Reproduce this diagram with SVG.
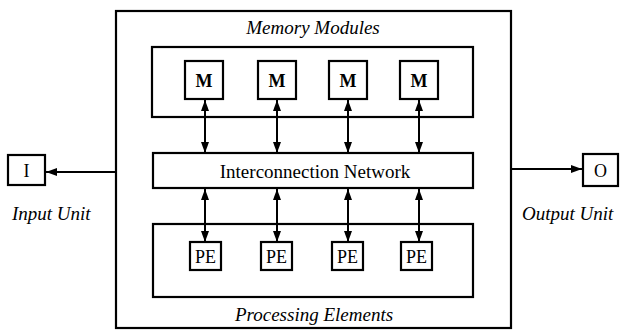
<svg xmlns="http://www.w3.org/2000/svg" width="620" height="331" viewBox="0 0 620 331">
  <defs>
    <marker id="head" viewBox="0 0 11 8" refX="11" refY="4" markerWidth="11" markerHeight="8" markerUnits="userSpaceOnUse" orient="auto-start-reverse">
      <path d="M0,0 L11,4 L0,8 Z" fill="#000"/>
    </marker>
  </defs>
  <style>
    .box { fill: #fff; stroke: #000; stroke-width: 2.2; }
    .frame { fill: none; stroke: #000; stroke-width: 2.2; }
    .lbl { font-family: "Liberation Serif", "Times New Roman", serif; fill: #000; }
    .it { font-style: italic; font-size: 19px; }
    .cell { font-size: 18px; text-anchor: middle; }
    .link { stroke: #000; stroke-width: 2; fill: none; }
  </style>
  <rect width="620" height="331" fill="#fff"/>

  <!-- enclosing system boundary -->
  <g id="system">
    <rect class="frame" x="116" y="11" width="395" height="317"/>
  </g>

  <!-- memory modules -->
  <g id="memory">
    <rect class="frame" x="152" y="47" width="321" height="70"/>
    <text class="lbl it" x="313" y="34" text-anchor="middle">Memory Modules</text>
  </g>
  <g id="m1"><rect class="box" x="185" y="61" width="38" height="38"/><text class="lbl cell" x="204" y="87" font-weight="bold">M</text></g>
  <g id="m2"><rect class="box" x="258" y="61" width="38" height="38"/><text class="lbl cell" x="277" y="87" font-weight="bold">M</text></g>
  <g id="m3"><rect class="box" x="329" y="61" width="38" height="38"/><text class="lbl cell" x="348" y="87" font-weight="bold">M</text></g>
  <g id="m4"><rect class="box" x="400" y="61" width="38" height="38"/><text class="lbl cell" x="419" y="87" font-weight="bold">M</text></g>

  <!-- interconnection network -->
  <g id="network">
    <rect class="frame" x="153" y="153" width="320" height="35"/>
    <text class="lbl" x="315" y="178" font-size="19" text-anchor="middle">Interconnection Network</text>
  </g>

  <!-- processing elements -->
  <g id="processing">
    <rect class="frame" x="153" y="224" width="320" height="73"/>
    <text class="lbl it" x="314" y="321" text-anchor="middle">Processing Elements</text>
  </g>
  <g id="pe1"><rect class="box" x="190" y="242" width="31" height="28"/><text class="lbl cell" x="205.5" y="262.5">PE</text></g>
  <g id="pe2"><rect class="box" x="261" y="242" width="31" height="28"/><text class="lbl cell" x="276.5" y="262.5">PE</text></g>
  <g id="pe3"><rect class="box" x="332" y="242" width="31" height="28"/><text class="lbl cell" x="347.5" y="262.5">PE</text></g>
  <g id="pe4"><rect class="box" x="401" y="242" width="31" height="28"/><text class="lbl cell" x="416.5" y="262.5">PE</text></g>

  <!-- input and output units -->
  <g id="input">
    <rect class="box" x="8" y="155" width="37" height="30"/>
    <text class="lbl cell" x="26.5" y="176.5">I</text>
    <text class="lbl it" x="12" y="220">Input Unit</text>
  </g>
  <g id="output">
    <rect class="box" x="583" y="154" width="35" height="32"/>
    <text class="lbl cell" x="600.5" y="176.5">O</text>
    <text class="lbl it" x="522" y="220">Output Unit</text>
  </g>

  <!-- connectors -->
  <g id="connectors">
    <line class="link" x1="205" y1="100" x2="205" y2="153" marker-start="url(#head)" marker-end="url(#head)"/>
    <line class="link" x1="277" y1="100" x2="277" y2="153" marker-start="url(#head)" marker-end="url(#head)"/>
    <line class="link" x1="348" y1="100" x2="348" y2="153" marker-start="url(#head)" marker-end="url(#head)"/>
    <line class="link" x1="419" y1="100" x2="419" y2="153" marker-start="url(#head)" marker-end="url(#head)"/>

    <line class="link" x1="205" y1="189" x2="205" y2="242" marker-start="url(#head)" marker-end="url(#head)"/>
    <line class="link" x1="277" y1="189" x2="277" y2="242" marker-start="url(#head)" marker-end="url(#head)"/>
    <line class="link" x1="348" y1="189" x2="348" y2="242" marker-start="url(#head)" marker-end="url(#head)"/>
    <line class="link" x1="419" y1="189" x2="419" y2="242" marker-start="url(#head)" marker-end="url(#head)"/>

    <line class="link" x1="116" y1="172" x2="46" y2="172" marker-end="url(#head)"/>
    <line class="link" x1="511" y1="169" x2="582" y2="169" marker-end="url(#head)"/>
  </g>
</svg>
